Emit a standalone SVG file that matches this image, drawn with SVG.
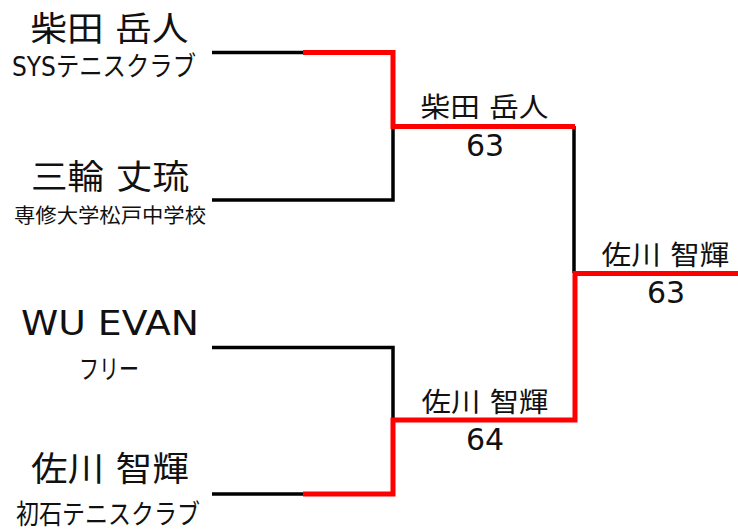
<svg xmlns="http://www.w3.org/2000/svg" width="738" height="531" viewBox="0 0 738 531">
<style>
text{font-family:"DejaVu Sans","Noto Sans CJK JP",sans-serif;fill:#111;text-anchor:middle}
.name{font-size:34px}
.club{font-size:27px}
.mid{font-size:27px}
.score{font-size:30px}
.blk{stroke:#000;stroke-width:3.5;fill:none}
.win{stroke:#ff0000;stroke-width:5;fill:none}
</style>
<rect width="738" height="531" fill="#fff"/>
<g id="connectors">
<path class="blk" d="M212,52.5 H305"/>
<path class="blk" d="M212,200 H393 V126"/>
<path class="blk" d="M212,347.5 H393 V420"/>
<path class="blk" d="M212,494 H305"/>
<path class="blk" d="M574,126 V273"/>
<path class="win" d="M303,52.5 H393 V126.5 H575"/>
<path class="win" d="M303,494 H393 V420 H575 V273.5 H738"/>
</g>
<g id="p1">
<text class="name" x="109.5" y="41" textLength="158" lengthAdjust="spacingAndGlyphs">柴田 岳人</text>
<text class="club" x="104" y="76" textLength="184" lengthAdjust="spacingAndGlyphs">SYSテニスクラブ</text>
</g>
<g id="p2">
<text class="name" x="110" y="189" textLength="158" lengthAdjust="spacingAndGlyphs">三輪 丈琉</text>
<text style="font-size:20px" x="110" y="223" textLength="192" lengthAdjust="spacingAndGlyphs">専修大学松戸中学校</text>
</g>
<g id="p3">
<text class="name" x="110" y="335" textLength="178" lengthAdjust="spacingAndGlyphs">WU EVAN</text>
<text class="club" x="109" y="379" textLength="60" lengthAdjust="spacingAndGlyphs">フリー</text>
</g>
<g id="p4">
<text class="name" x="110" y="481" textLength="158" lengthAdjust="spacingAndGlyphs">佐川 智輝</text>
<text class="club" x="108" y="524" textLength="184" lengthAdjust="spacingAndGlyphs">初石テニスクラブ</text>
</g>
<g id="sf1">
<text class="mid" x="484.5" y="117" textLength="128" lengthAdjust="spacingAndGlyphs">柴田 岳人</text>
<text class="score" x="485" y="156">63</text>
</g>
<g id="sf2">
<text class="mid" x="485" y="412" textLength="127" lengthAdjust="spacingAndGlyphs">佐川 智輝</text>
<text class="score" x="485" y="450">64</text>
</g>
<g id="final">
<text class="mid" x="665.5" y="265" textLength="128" lengthAdjust="spacingAndGlyphs">佐川 智輝</text>
<text class="score" x="666" y="303">63</text>
</g>
</svg>
